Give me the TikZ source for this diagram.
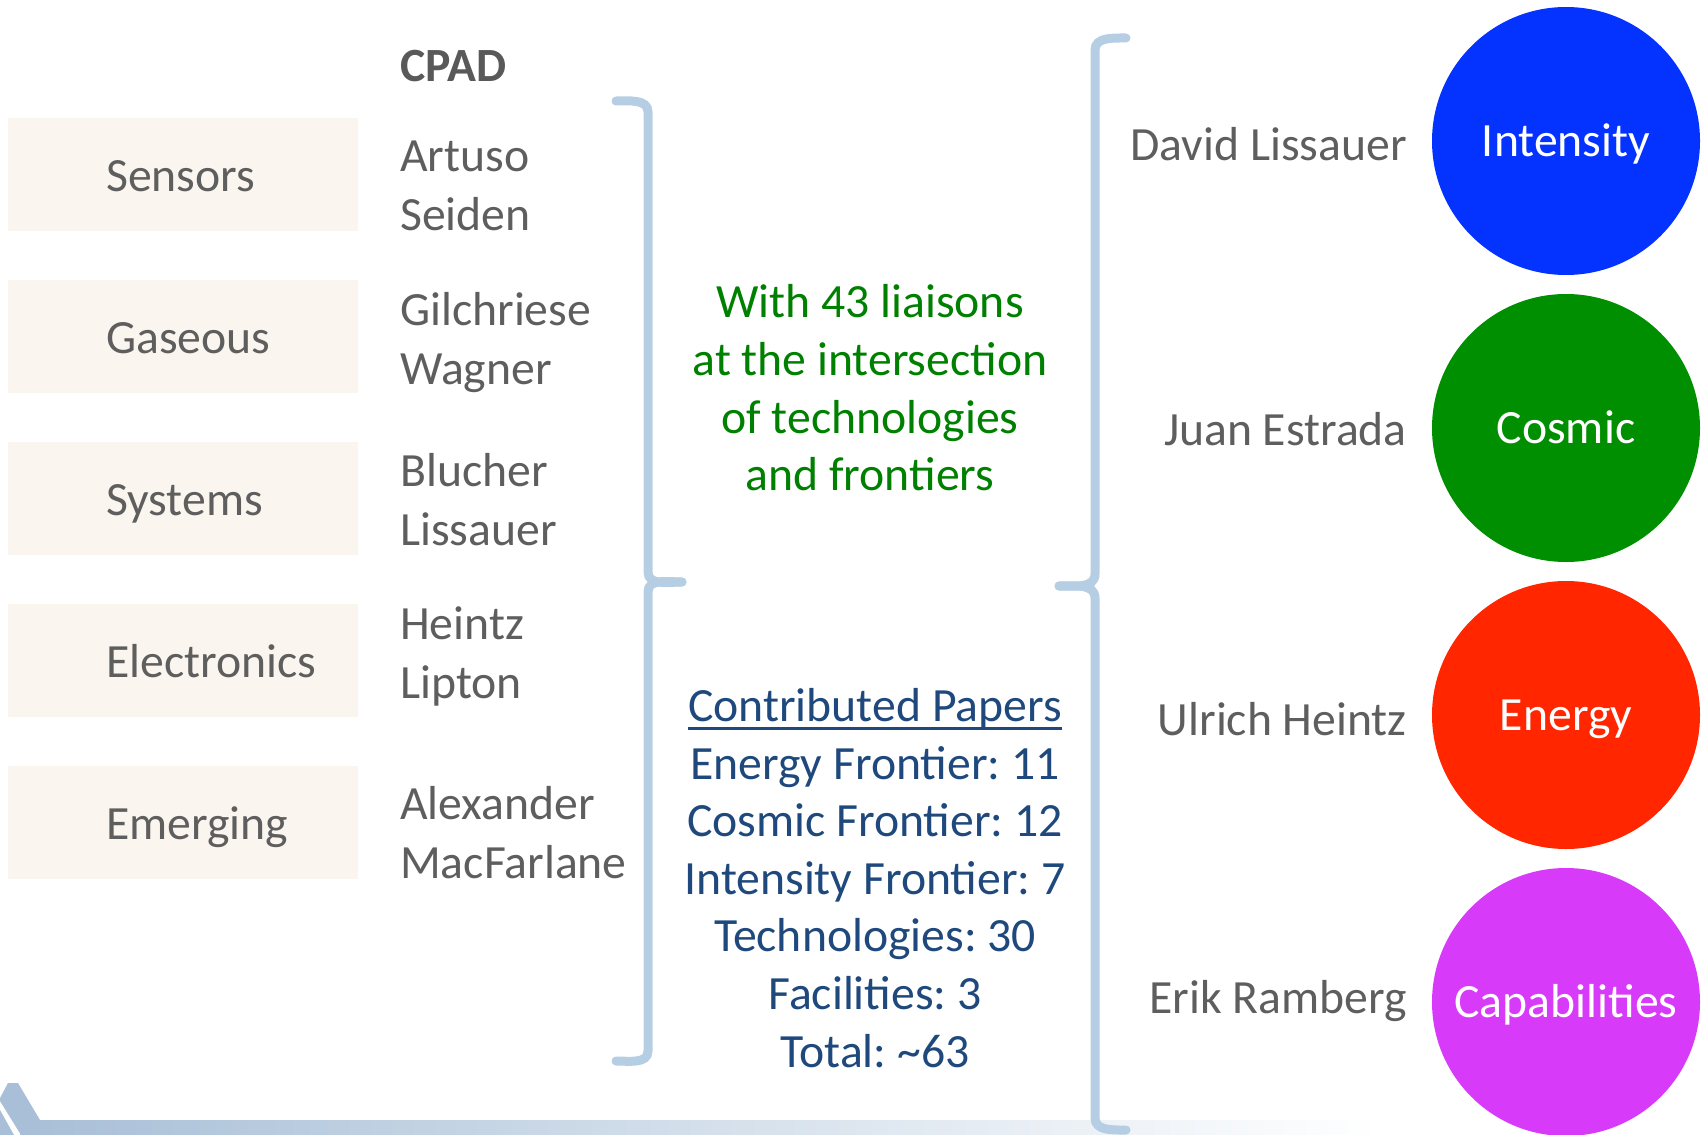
\documentclass[tikz,border=0pt]{standalone}
\usepackage{fontspec}
\setmainfont{Carlito}
\usetikzlibrary{positioning}
\frenchspacing

\definecolor{boxfill}{HTML}{FAF6EF}
\definecolor{txtgray}{HTML}{5E5E5E}
\definecolor{bracecol}{HTML}{B5CEE4}
\definecolor{liaisongreen}{HTML}{008000}
\definecolor{paperblue}{HTML}{1F497D}
\definecolor{intblue}{HTML}{0433FF}
\definecolor{cosgreen}{HTML}{008F00}
\definecolor{enred}{HTML}{FF2600}
\definecolor{capmag}{HTML}{D83AF9}
\definecolor{barblue}{HTML}{A8BFD7}

\newcommand{\ulpaper}[1]{\setbox0\hbox{#1}\rlap{\rule[-8pt]{\wd0}{2.5pt}}\box0}

\begin{document}
\begin{tikzpicture}[y=-1pt,x=1pt]
        \tikzset{
            txt/.style={inner sep=0,text=txtgray,font=\fontsize{47.7}{59}\selectfont},
            area/.style={fill=boxfill,minimum width=350,minimum height=113,inner sep=0},
            frontier/.style={circle,minimum size=268,inner sep=0,text=white,text height=30pt,text depth=0pt,font=\fontsize{47.7}{59}\selectfont},
            bracket/.style={draw=bracecol,line width=9,line cap=round}
        }
        \useasboundingbox (0,0) rectangle (1703,1135);

        % bottom bar
        \shade[left color=barblue,right color=white] (20,1120) rectangle (1380,1135);
        \fill[barblue] (0,1098) -- (8,1083) -- (18,1083) -- (40,1120) -- (40,1135) -- (21,1135) -- (0,1101) -- cycle;
        \fill[barblue] (0,1110) -- (14,1135) -- (0,1135) -- cycle;

        \node[txt,anchor=base west,text=txtgray!95!black,font=\fontsize{47.7}{59}\selectfont\bfseries] (cpad) at (400,81) {CPAD};

        \node[area] (sensors) at (183,174) {};
        \node[area] (gaseous) at (183,336) {};
        \node[area] (systems) at (183,498) {};
        \node[area] (electronics) at (183,660) {};
        \node[area] (emerging) at (183,822) {};

        \node[txt,anchor=base west] (sensorslbl) at (106,191) {Sensors};
        \node[txt,anchor=base west] (gaseouslbl) at (106,353) {Gaseous};
        \node[txt,anchor=base west] (systemslbl) at (106,515) {Systems};
        \node[txt,anchor=base west] (electronicslbl) at (106,677) {Electronics};
        \node[txt,anchor=base west] (emerginglbl) at (106,839) {Emerging};

        \node[txt,anchor=west,align=left] (sensorsppl) at (400,186) {Artuso\\Seiden};
        \node[txt,anchor=west,align=left] (gaseousppl) at (400,343) {Gilchriese\\Wagner};
        \node[txt,anchor=west,align=left] (systemsppl) at (400,500) {Blucher\\Lissauer};
        \node[txt,anchor=west,align=left] (electronicsppl) at (400,656) {Heintz\\Lipton};
        \node[txt,anchor=west,align=left] (emergingppl) at (400,833) {Alexander\\MacFarlane};

        % braces
        \draw[bracket] (616,101) to[out=0,in=90] (648,112) -- (648,572) to[out=-90,in=180] (682,582);
        \draw[bracket] (682,582) to[out=180,in=90] (648,592) -- (648,1051) to[out=-90,in=0] (616,1061);
        \draw[bracket] (1126,38) to[out=180,in=90] (1095,50) -- (1095,574) to[out=-90,in=0] (1059,586);
        \draw[bracket] (1059,586) to[out=0,in=90] (1095,598) -- (1095,1118) to[out=-90,in=180] (1126,1130);

        \node[txt,text=liaisongreen,align=center,font=\fontsize{47.7}{57.6}\selectfont] (liaisons) at (870,388) {With 43 liaisons\\at the intersection\\of technologies\\and frontiers};
        \node[txt,text=paperblue,align=center,font=\fontsize{47.7}{57.6}\selectfont] (papers) at (875,878) {\ulpaper{Contributed Papers}\\Energy Frontier: 11\\Cosmic Frontier: 12\\Intensity Frontier: 7\\Technologies: 30\\Facilities: 3\\Total: \textasciitilde63};

        \node[frontier,fill=intblue] (intensity) at (1566,141) {Intensity};
        \node[frontier,fill=cosgreen] (cosmic) at (1566,428) {Cosmic};
        \node[frontier,fill=enred] (energy) at (1566,715) {Energy};
        \node[frontier,fill=capmag] (capabilities) at (1566,1002) {Capabilities};

        \node[txt,anchor=base east] (lissauerD) at (1407,160) {David Lissauer};
        \node[txt,anchor=base east] (estrada) at (1407,445) {Juan Estrada};
        \node[txt,anchor=base east] (heintzU) at (1407,735) {Ulrich Heintz};
        \node[txt,anchor=base east] (ramberg) at (1407,1013) {Erik Ramberg};
    \end{tikzpicture}
\end{document}
